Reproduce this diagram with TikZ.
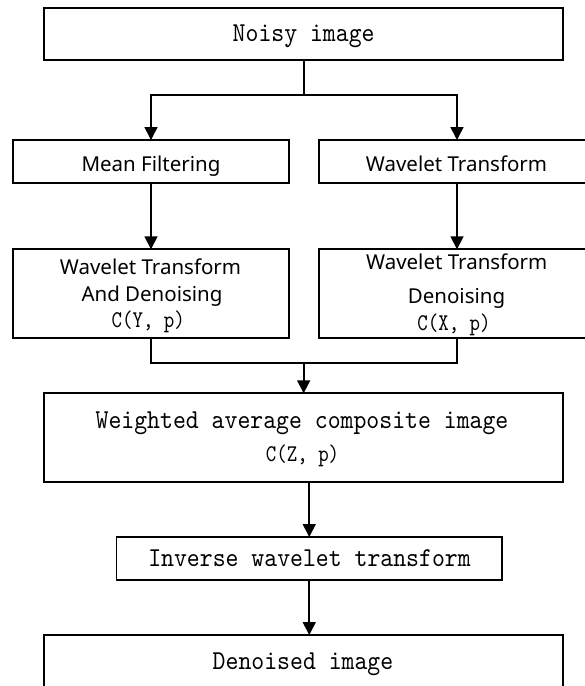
\documentclass[tikz,border=0pt]{standalone}
\usepackage{fontspec}
\usetikzlibrary{arrows.meta}
\newfontfamily\monoft[FakeStretch=0.9]{lmmono10-regular.otf}
\newfontfamily\monosft[FakeStretch=0.83]{lmmono10-regular.otf}
\newfontfamily\sansft{Noto Sans}
\begin{document}
\begin{tikzpicture}[x=1pt,y=-1pt,
  box/.style={draw, line width=1.7pt, inner sep=0pt, outer sep=0pt},
  link/.style={line width=1.7pt},
  arr/.style={line width=1.7pt, -{Triangle[length=13pt,width=13pt]}},
  mono/.style={font=\monoft\fontsize{27.3}{30}\selectfont, inner sep=0pt, anchor=base},
  monos/.style={font=\monosft\fontsize{24}{28}\selectfont, inner sep=0pt, anchor=base},
  sans/.style={font=\sansft\fontsize{20.5}{24}\selectfont, inner sep=0pt, anchor=base}]
\useasboundingbox (0,0) rectangle (585,686);
% boxes
\node[box, minimum width=519.3pt, minimum height=52pt] (noisy) at (303.65,34.3) {};
\node[box, minimum width=275.4pt, minimum height=42.7pt] (mean) at (151,161.35) {};
\node[box, minimum width=275.4pt, minimum height=42.7pt] (wave) at (457,161.35) {};
\node[box, minimum width=275.4pt, minimum height=89pt] (wtl) at (151,293.8) {};
\node[box, minimum width=275.4pt, minimum height=89pt] (wtr) at (457,293.8) {};
\node[box, minimum width=519.3pt, minimum height=88.4pt] (weighted) at (303.65,437.5) {};
\node[box, minimum width=385.5pt, minimum height=43pt] (inverse) at (309.25,558.5) {};
\node[box, minimum width=519.3pt, minimum height=90pt] (denoised) at (303.65,680) {};
% texts
\node[mono] (tnoisy) at (303.65,41.7) {Noisy image};
\node[sans] (tmean) at (151,171.7) {Mean Filtering};
\node[sans] (twave) at (456.5,171.7) {Wavelet Transform};
\node[sans] (tl1) at (150.5,274) {Wavelet Transform};
\node[sans] (tl2) at (152,301.7) {And Denoising};
\node[monos] (tl3) at (148.3,327.3) {C(Y, p)};
\node[sans] (tr1) at (456.7,269) {Wavelet Transform};
\node[sans] (tr2) at (456.5,303.3) {Denoising};
\node[monos] (tr3) at (454,330) {C(X, p)};
\node[mono] (tw1) at (302,428) {Weighted average composite image};
\node[monos] (tw2) at (302.6,461) {C(Z, p)};
\node[mono] (tinv) at (309.5,566.7) {Inverse wavelet transform};
\node[mono] (tden) at (303,669.3) {Denoised image};
% connectors
\coordinate (split) at (303.65,94.7);
\coordinate (join) at (303.65,362.7);
\draw[link] (noisy.south) -- (split);
\draw[arr] (split) -| (mean.north);
\draw[arr] (split) -| (wave.north);
\draw[arr] (mean.south) -- (wtl.north);
\draw[arr] (wave.south) -- (wtr.north);
\draw[link] (wtl.south) |- (join) -| (wtr.south);
\draw[arr] (join) -- (weighted.north);
\draw[arr] (weighted.south -| inverse.north) -- (inverse.north);
\draw[arr] (inverse.south) -- (inverse.south |- denoised.north);
\end{tikzpicture}
\end{document}
